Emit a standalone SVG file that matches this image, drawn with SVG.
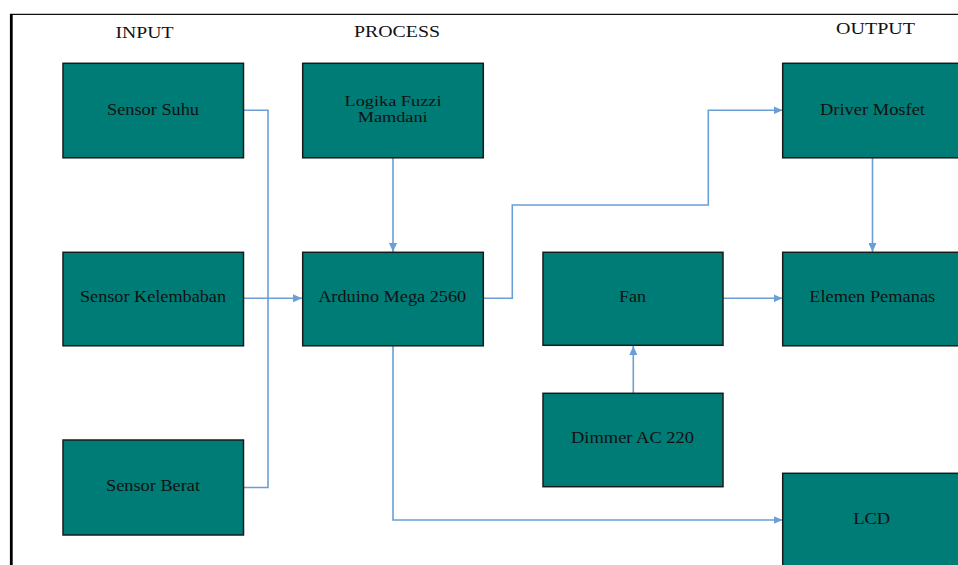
<svg xmlns="http://www.w3.org/2000/svg" width="958" height="565" viewBox="0 0 958 565">
<defs>
<style>
.box{fill:#007C77;stroke:#1a1a1a;stroke-width:1.5}
.lbl{font-family:"Liberation Serif","Times New Roman",serif;font-size:16px;fill:#111;text-anchor:middle}
.sm{font-size:14px}
.hdr{font-family:"Liberation Serif","Times New Roman",serif;font-size:16.5px;fill:#111;text-anchor:middle}
.con{fill:none;stroke:#6A9FD6;stroke-width:1.6}
</style>
<marker id="arr" markerWidth="10" markerHeight="8" refX="9" refY="4" orient="auto" markerUnits="userSpaceOnUse">
<path d="M0,0 L9,4 L0,8 Z" fill="#6A9FD6"/>
</marker>
</defs>
<rect width="958" height="565" fill="#ffffff"/>
<g id="frame">
<line x1="10" y1="14.3" x2="958" y2="14.3" stroke="#111" stroke-width="1.3"/>
<line x1="11.3" y1="14" x2="11.3" y2="565" stroke="#000" stroke-width="2.8"/>
</g>
<g id="headers">
<text class="hdr" x="144.5" y="37.5" textLength="58" lengthAdjust="spacingAndGlyphs">INPUT</text>
<text class="hdr" x="397" y="37" textLength="86" lengthAdjust="spacingAndGlyphs">PROCESS</text>
<text class="hdr" x="875.5" y="33.7" textLength="79" lengthAdjust="spacingAndGlyphs">OUTPUT</text>
</g>
<g id="connectors">
<path class="con" d="M243,110.3 H268 V487.5 H243"/>
<path class="con" d="M243,298.3 H302" marker-end="url(#arr)"/>
<path class="con" d="M393,158 V252" marker-end="url(#arr)"/>
<path class="con" d="M483,298.3 H512.3 V205 H708.3 V110.3 H782.5" marker-end="url(#arr)"/>
<path class="con" d="M872.5,158 V252" marker-end="url(#arr)"/>
<path class="con" d="M723,298.3 H782.5" marker-end="url(#arr)"/>
<path class="con" d="M633.3,393 V346" marker-end="url(#arr)"/>
<path class="con" d="M393,346 V520 H782.5" marker-end="url(#arr)"/>
</g>
<g id="sensor-suhu">
<rect class="box" x="63" y="63.3" width="180.5" height="94.5"/>
<text class="lbl" x="153" y="115" textLength="92" lengthAdjust="spacingAndGlyphs">Sensor Suhu</text>
</g>
<g id="sensor-kelembaban">
<rect class="box" x="63" y="252.3" width="180.5" height="93.5"/>
<text class="lbl" x="153" y="302" textLength="146" lengthAdjust="spacingAndGlyphs">Sensor Kelembaban</text>
</g>
<g id="sensor-berat">
<rect class="box" x="63" y="440" width="180.5" height="95"/>
<text class="lbl" x="153" y="491" textLength="94" lengthAdjust="spacingAndGlyphs">Sensor Berat</text>
</g>
<g id="logika-fuzzi">
<rect class="box" x="302.7" y="63.3" width="180.6" height="94.5"/>
<text class="lbl sm" x="393" y="105.5" textLength="97" lengthAdjust="spacingAndGlyphs">Logika Fuzzi</text>
<text class="lbl sm" x="392.7" y="122" textLength="70" lengthAdjust="spacingAndGlyphs">Mamdani</text>
</g>
<g id="arduino">
<rect class="box" x="302.7" y="252.3" width="180.6" height="93.5"/>
<text class="lbl" x="392.2" y="301.8" textLength="148" lengthAdjust="spacingAndGlyphs">Arduino Mega 2560</text>
</g>
<g id="fan">
<rect class="box" x="543" y="252.3" width="180" height="93"/>
<text class="lbl" x="632.5" y="301.8" textLength="27" lengthAdjust="spacingAndGlyphs">Fan</text>
</g>
<g id="dimmer">
<rect class="box" x="543" y="393.3" width="180" height="93.4"/>
<text class="lbl" x="632.5" y="443.3" textLength="123" lengthAdjust="spacingAndGlyphs">Dimmer AC 220</text>
</g>
<g id="driver-mosfet">
<rect class="box" x="782.7" y="63.3" width="185" height="94.5"/>
<text class="lbl" x="872.5" y="115" textLength="105" lengthAdjust="spacingAndGlyphs">Driver Mosfet</text>
</g>
<g id="elemen-pemanas">
<rect class="box" x="782.7" y="252.3" width="185" height="93.5"/>
<text class="lbl" x="872.2" y="302.3" textLength="126" lengthAdjust="spacingAndGlyphs">Elemen Pemanas</text>
</g>
<g id="lcd">
<rect class="box" x="782.7" y="473.3" width="185" height="100"/>
<text class="lbl" x="871.7" y="524" textLength="37" lengthAdjust="spacingAndGlyphs">LCD</text>
</g>
</svg>
